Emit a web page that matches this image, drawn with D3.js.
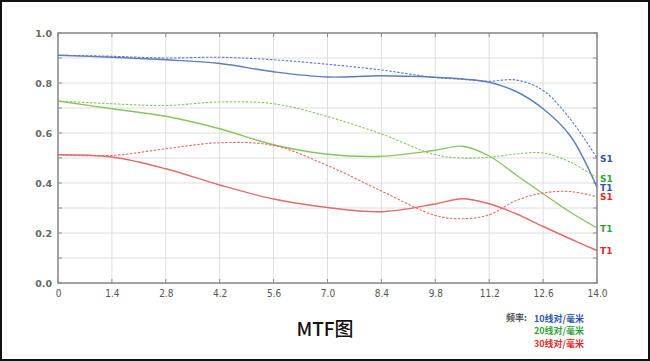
<!DOCTYPE html>
<html>
<head>
<meta charset="utf-8">
<script src="https://cdn.jsdelivr.net/npm/d3@7"></script>
<style>
  body { margin: 0; background: #fff; }
  svg { display: block; }
</style>
</head>
<body>
<svg id="chart" width="650" height="361"></svg>
<script>
// spatial frequency positions (mm from center)
var xs = [0, 1.4, 2.8, 4.2, 5.6, 7.0, 8.4, 9.8, 10.5, 11.2, 11.9, 12.6, 13.3, 14.0];
var xTicks = ["0", "1.4", "2.8", "4.2", "5.6", "7.0", "8.4", "9.8", "11.2", "12.6", "14.0"];
var yTicks = ["0.0", "0.2", "0.4", "0.6", "0.8", "1.0"];

var s10 = [0.911, 0.907, 0.900, 0.903, 0.893, 0.875, 0.852, 0.822, 0.815, 0.807, 0.812, 0.770, 0.657, 0.500];
var t10 = [0.911, 0.903, 0.893, 0.878, 0.845, 0.824, 0.829, 0.823, 0.816, 0.803, 0.766, 0.697, 0.590, 0.383];
var s20 = [0.728, 0.717, 0.710, 0.724, 0.717, 0.666, 0.596, 0.513, 0.500, 0.503, 0.516, 0.520, 0.484, 0.420];
var t20 = [0.728, 0.697, 0.667, 0.617, 0.553, 0.515, 0.507, 0.531, 0.547, 0.508, 0.432, 0.357, 0.284, 0.220];
var s30 = [0.513, 0.510, 0.537, 0.561, 0.550, 0.470, 0.368, 0.270, 0.257, 0.273, 0.330, 0.360, 0.366, 0.345];
var t30 = [0.513, 0.504, 0.457, 0.392, 0.336, 0.302, 0.285, 0.316, 0.337, 0.317, 0.277, 0.226, 0.177, 0.130];

var legendLabels = ["10线对/毫米", "20线对/毫米", "30线对/毫米"];

var blue = "#5b7cc0", green = "#86c560", red = "#e46a6a";
var blueTxt = "#2f56a8", greenTxt = "#35a03a", redTxt = "#e02a2a";

var series = [
    {v: s10, color: blue, dash: true, label: "S1", txt: blueTxt},
    {v: t10, color: blue, dash: false, label: "T1", txt: blueTxt},
    {v: s20, color: green, dash: true, label: "S1", txt: greenTxt},
    {v: t20, color: green, dash: false, label: "T1", txt: greenTxt},
    {v: s30, color: red, dash: true, label: "S1", txt: redTxt},
    {v: t30, color: red, dash: false, label: "T1", txt: redTxt}
];

var svg = d3.select("#chart");
var W = 650, H = 361;
var pLeft = 58, pRight = 597, pTop = 33, pBottom = 283;

// frame
svg.append("rect").attr("x", 6).attr("y", 6).attr("width", W - 14).attr("height", H - 12)
    .attr("fill", "none").attr("stroke", "#f1f1f1").attr("stroke-width", 1);
svg.append("rect").attr("x", 1).attr("y", 1).attr("width", W - 2).attr("height", H - 2)
    .attr("fill", "none").attr("stroke", "#111").attr("stroke-width", 2);

var x = d3.scaleLinear().domain([0, 14]).range([pLeft, pRight]);
var y = d3.scaleLinear().domain([0, 1]).range([pBottom, pTop]);

var g = svg.append("g");

// grid
var yGrid = d3.range(0, 11).map(function(i) { return i / 10; });
g.selectAll(".hgrid").data(yGrid).enter().append("line")
    .attr("x1", pLeft).attr("x2", pRight)
    .attr("y1", function(d) { return y(d); }).attr("y2", function(d) { return y(d); })
    .attr("stroke", "#dedede").attr("stroke-width", 1);
g.selectAll(".vgrid").data(xTicks).enter().append("line")
    .attr("y1", pTop).attr("y2", pBottom)
    .attr("x1", function(d) { return x(+d); }).attr("x2", function(d) { return x(+d); })
    .attr("stroke", "#dedede").attr("stroke-width", 1);

// axes as a box with inward ticks
var axisColor = "#8a8a8a";
var xAxis = d3.axisBottom(x).tickValues(xTicks.map(Number)).tickFormat(function(d, i) { return xTicks[i]; }).tickSize(0).tickPadding(7);
var gx = g.append("g").attr("transform", "translate(0," + pBottom + ")").call(xAxis);
gx.select(".domain").remove();
gx.selectAll("text").attr("fill", "#555").style("font-family", "'Liberation Sans Narrow', 'DejaVu Sans Condensed', sans-serif")
    .style("font-size", "10px");

var yAxis = d3.axisLeft(y).tickValues(yTicks.map(Number)).tickFormat(function(d, i) { return yTicks[i]; }).tickSize(0).tickPadding(6);
var gy = g.append("g").attr("transform", "translate(" + pLeft + ",0)").call(yAxis);
gy.select(".domain").remove();
gy.selectAll("text").attr("fill", "#666").style("font-family", "'DejaVu Sans', sans-serif")
    .style("font-size", "9.5px").style("font-weight", "bold");

// inner tick marks
g.selectAll(".ltick").data(yGrid).enter().append("line")
    .attr("x1", pLeft).attr("x2", pLeft + 4)
    .attr("y1", function(d) { return y(d); }).attr("y2", function(d) { return y(d); })
    .attr("stroke", axisColor).attr("stroke-width", 1);
g.selectAll(".rtick").data(yGrid).enter().append("line")
    .attr("x1", pRight - 4).attr("x2", pRight)
    .attr("y1", function(d) { return y(d); }).attr("y2", function(d) { return y(d); })
    .attr("stroke", axisColor).attr("stroke-width", 1);
g.selectAll(".ttick").data(xTicks).enter().append("line")
    .attr("y1", pTop).attr("y2", pTop + 4)
    .attr("x1", function(d) { return x(+d); }).attr("x2", function(d) { return x(+d); })
    .attr("stroke", axisColor).attr("stroke-width", 1);
g.selectAll(".btick").data(xTicks).enter().append("line")
    .attr("y1", pBottom - 4).attr("y2", pBottom)
    .attr("x1", function(d) { return x(+d); }).attr("x2", function(d) { return x(+d); })
    .attr("stroke", axisColor).attr("stroke-width", 1);

g.append("rect").attr("x", pLeft).attr("y", pTop).attr("width", pRight - pLeft).attr("height", pBottom - pTop)
    .attr("fill", "none").attr("stroke", axisColor).attr("stroke-width", 1.5);

// curves
var line = d3.line()
    .x(function(d, i) { return x(xs[i]); })
    .y(function(d) { return y(d); })
    .curve(d3.curveCatmullRom.alpha(0.5));

series.forEach(function(s) {
    g.append("path")
        .datum(s.v)
        .attr("fill", "none")
        .attr("stroke", s.color)
        .attr("stroke-width", s.dash ? 1.1 : 1.4)
        .attr("stroke-dasharray", s.dash ? "2.5,1.5" : null)
        .attr("d", line);
});

// end labels, pushed apart a little
var ends = series.map(function(s) { return {s: s, y: y(s.v[s.v.length - 1])}; })
    .sort(function(a, b) { return a.y - b.y; });
for (var i = 1; i < ends.length; i++) {
    if (ends[i].y - ends[i - 1].y < 9) ends[i].y = ends[i - 1].y + 9;
}
ends.forEach(function(e) {
    g.append("text")
        .attr("x", pRight + 3).attr("y", e.y + 3.5)
        .attr("fill", e.s.txt)
        .style("font-family", "'DejaVu Sans', sans-serif")
        .style("font-size", "9px").style("font-weight", "bold")
        .text(e.s.label);
});

// title
svg.append("text")
    .attr("x", 325).attr("y", 336)
    .attr("text-anchor", "middle")
    .attr("fill", "#111")
    .style("font-family", "'Noto Sans CJK SC', sans-serif")
    .style("font-size", "19px").style("font-weight", "500")
    .text("MTF图");

// legend
svg.append("text")
    .attr("x", 506).attr("y", 321)
    .attr("fill", "#555")
    .style("font-family", "'Noto Sans CJK SC', sans-serif")
    .style("font-size", "9px").style("font-weight", "bold")
    .text("频率:");
var legColors = [blueTxt, greenTxt, redTxt];
svg.selectAll(".leg").data(legendLabels).enter().append("text")
    .attr("x", 534).attr("y", function(d, i) { return 321.5 + i * 12.5; })
    .attr("fill", function(d, i) { return legColors[i]; })
    .style("font-family", "'Noto Sans CJK SC', sans-serif")
    .style("font-size", "9px").style("font-weight", "bold")
    .text(function(d) { return d; });
</script>
</body>
</html>
